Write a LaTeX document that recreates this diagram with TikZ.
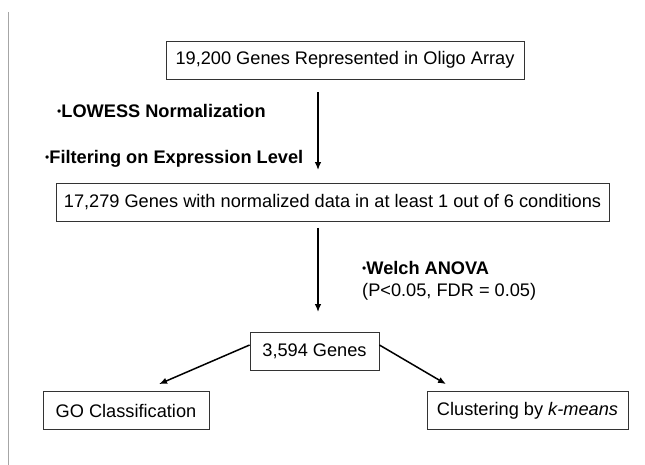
\documentclass[tikz,border=0pt]{standalone}
\usepackage{fontspec}
\setmainfont{Liberation Sans}
\usetikzlibrary{arrows.meta}
\def\genebox{\node[draw=black!80,line width=0.8pt,inner sep=0pt,minimum height=38pt,font=\fontsize{18.2}{22}\selectfont]}
\def\steptext{\node[inner sep=0pt,anchor=west,font=\fontsize{18.2}{22}\selectfont]}
\def\drawflow{\draw[line width=1.5pt,-{Latex[length=8pt,width=6.5pt]}]}
\def\stepdot{\raisebox{1.8pt}{\fontsize{12}{12}\selectfont\textbullet}}

\begin{document}
\begin{tikzpicture}[x=1pt,y=-1pt]
\useasboundingbox (0,0) rectangle (645,465);
\draw[black!35,line width=0.9pt] (8,12) -- (8,465);
\genebox[minimum width=358pt] (oligo) at (345,60) {19,200 Genes Represented in Oligo Array};
\genebox[minimum width=553pt] (norm) at (332.5,202.5) {17,279 Genes with normalized data in at least 1 out of 6 conditions};
\genebox[minimum width=129pt] (anova) at (314.5,351.5) {3,594 Genes};
\genebox[minimum width=166pt] (go) at (126,410.5) {GO Classification};
\genebox[minimum width=201pt] (kmeans) at (527.5,410.5) {Clustering by \textit{k-means}};
\coordinate (axis) at (318,0);
\steptext (lowess) at (57,111) {\stepdot\textbf{LOWESS Normalization}};
\steptext (filter) at (45,159) {\stepdot\textbf{Filtering on Expression Level}};
\steptext[align=left] (welch) at (362,281) {\stepdot\textbf{Welch ANOVA}\\(P<0.05, FDR = 0.05)};
\drawflow[shorten <=13pt,shorten >=13pt] (oligo.south -| axis) -- (norm.north -| axis);
\drawflow[shorten <=6pt,shorten >=20pt] (norm.south -| axis) -- (anova.north -| axis);
\drawflow ([yshift=6.5pt]anova.west) -- ([xshift=33pt,yshift=7pt]go.north);
\drawflow ([yshift=6.5pt]anova.east) -- ([xshift=-81.5pt,yshift=7pt]kmeans.north);
\end{tikzpicture}
\end{document}
